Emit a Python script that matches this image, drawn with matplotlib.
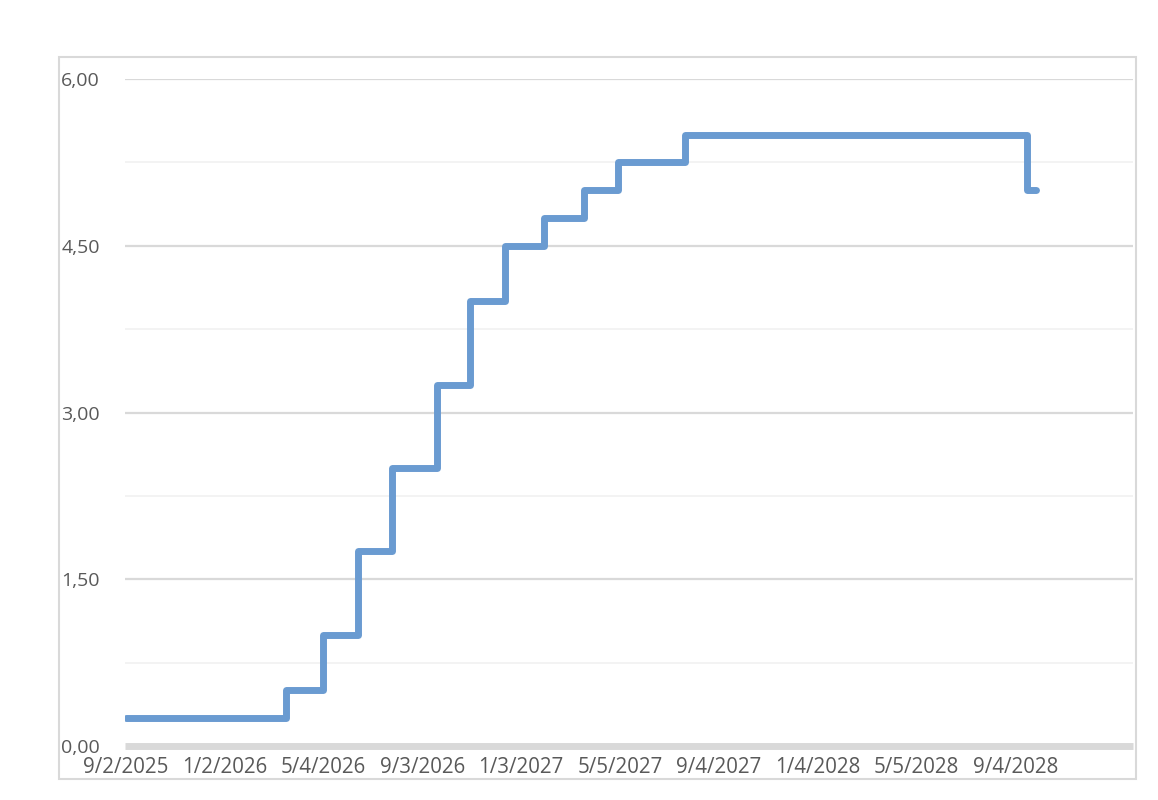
import matplotlib
matplotlib.use("Agg")
import matplotlib.pyplot as plt
from matplotlib.patches import Rectangle
import pandas as pd

# ---- data ----
step_dates = ['2025-09-02', '2026-03-19', '2026-05-03', '2026-06-16', '2026-07-27',
              '2026-09-21', '2026-11-01', '2026-12-14', '2027-01-31', '2027-03-21',
              '2027-05-03', '2027-07-24', '2028-09-18', '2028-09-29']
step_values = [0.25, 0.50, 1.00, 1.75, 2.50, 3.25, 4.00, 4.50, 4.75, 5.00,
               5.25, 5.50, 5.00, 5.00]
xtick_labels = ['9/2/2025', '1/2/2026', '5/4/2026', '9/3/2026', '1/3/2027',
                '5/5/2027', '9/4/2027', '1/4/2028', '5/5/2028', '9/4/2028']
ytick_values = [0.0, 1.5, 3.0, 4.5, 6.0]
ytick_labels = ['0,00', '1,50', '3,00', '4,50', '6,00']
yminor_values = [0.75, 2.25, 3.75, 5.25]
x_start = '2025-09-01'
x_end = '2029-01-27'

plt.rcParams['font.family'] = ['Open Sans', 'DejaVu Sans']

fig = plt.figure(figsize=(11.58, 8.0), dpi=100)
W, H = 1158, 800
ax = fig.add_axes([125 / W, 1 - 746 / H, 1008 / W, 667 / H])

# outer chart border
fig.patches.append(Rectangle((59 / W, 1 - 779 / H), (1136 - 59) / W, (779 - 57) / H,
                             transform=fig.transFigure, fill=False,
                             edgecolor='#D9D9D9', linewidth=1.5))

dates = pd.to_datetime(step_dates)
ax.plot(dates, step_values, drawstyle='steps-post', color='#6A9BD1',
        linewidth=5.0, solid_capstyle='round', solid_joinstyle='round', zorder=5)

ax.set_xlim(pd.Timestamp(x_start), pd.Timestamp(x_end))
ax.set_ylim(0, 6)

# gridlines
for v in yminor_values:
    ax.axhline(v, color='#F2F2F2', linewidth=1.3, zorder=1)
for v in ytick_values[1:]:
    ax.axhline(v, color='#D9D9D9', linewidth=1.6, zorder=1)
base = ax.axhline(0, color='#D9D9D9', linewidth=5.0, zorder=2, clip_on=False)
base.set_solid_capstyle('butt')

for s in ax.spines.values():
    s.set_visible(False)

ax.set_yticks(ytick_values)
ax.set_yticklabels(ytick_labels)
xt = pd.to_datetime(xtick_labels, format='%m/%d/%Y')
ax.set_xticks(xt)
ax.set_xticklabels(xtick_labels)
ax.tick_params(axis='both', length=0, labelcolor='#595959')
ax.tick_params(axis='y', pad=18, labelsize=14)
ax.tick_params(axis='x', pad=8, labelsize=14.8)

fig.savefig('out.png', dpi=100, facecolor='white')
